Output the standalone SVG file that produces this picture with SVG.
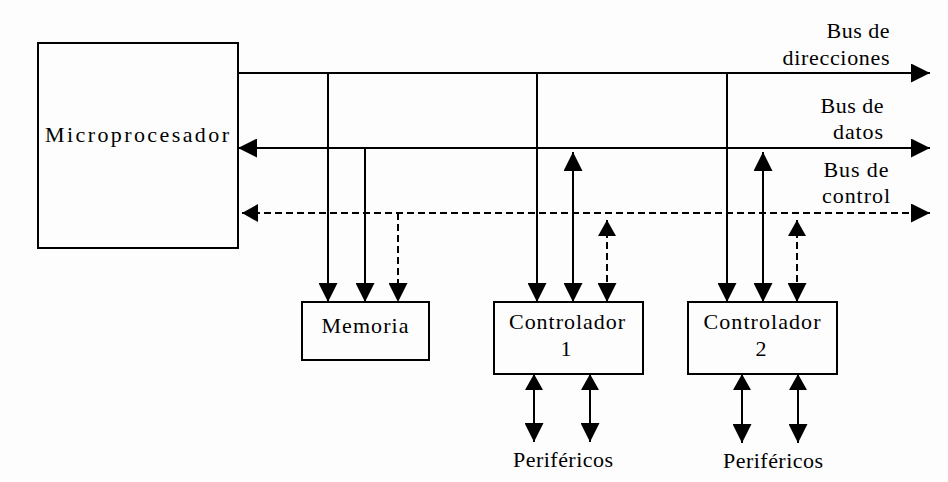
<svg xmlns="http://www.w3.org/2000/svg" width="948" height="482" viewBox="0 0 948 482">
  <style>
    .box { fill: none; stroke: #000; stroke-width: 2; }
    .ln { fill: none; stroke: #000; stroke-width: 2; }
    .dash { stroke-dasharray: 7 4; }
    .lbl { font-family: "Liberation Serif", "Times New Roman", serif; font-size: 22px; fill: #000; text-anchor: middle; }
  </style>
  <defs>
    <marker id="head" viewBox="0 0 19 19" refX="19" refY="9.5" markerWidth="19" markerHeight="19" markerUnits="userSpaceOnUse" orient="auto-start-reverse">
      <path d="M0,0 L19,9.5 L0,19 z" fill="#000"/>
    </marker>
    <marker id="headSm" viewBox="0 0 16 18" refX="16" refY="9" markerWidth="16" markerHeight="18" markerUnits="userSpaceOnUse" orient="auto-start-reverse">
      <path d="M0,0 L16,9 L0,18 z" fill="#000"/>
    </marker>
  </defs>

  <rect width="948" height="482" fill="#fdfdfd"/>

  <!-- bus labels -->
  <g id="labels">
    <text class="lbl" x="858" y="38" textLength="63">Bus de</text>
    <text class="lbl" x="836" y="65" textLength="107">direcciones</text>
    <text class="lbl" x="852" y="113" textLength="63">Bus de</text>
    <text class="lbl" x="858" y="139" textLength="50">datos</text>
    <text class="lbl" x="856" y="177" textLength="65">Bus de</text>
    <text class="lbl" x="856" y="203" textLength="68">control</text>
  </g>

  <g id="cpu">
    <rect class="box" x="38" y="43" width="200" height="205"/>
    <text class="lbl" x="137" y="142" textLength="184">Microprocesador</text>
  </g>

  <g id="memoria">
    <rect class="box" x="302" y="302" width="127" height="58"/>
    <text class="lbl" x="365" y="333" textLength="87">Memoria</text>
  </g>

  <g id="controlador1">
    <rect class="box" x="494" y="302" width="149" height="72"/>
    <text class="lbl" x="567" y="329" textLength="116">Controlador</text>
    <text class="lbl" x="566" y="356">1</text>
  </g>

  <g id="controlador2">
    <rect class="box" x="688" y="302" width="149" height="72"/>
    <text class="lbl" x="762" y="329" textLength="117">Controlador</text>
    <text class="lbl" x="761" y="356">2</text>
  </g>

  <g id="perifericos1">
    <text class="lbl" x="563" y="467" textLength="100">Periféricos</text>
  </g>
  <g id="perifericos2">
    <text class="lbl" x="773" y="468" textLength="100">Periféricos</text>
  </g>

  <g id="connectors">
    <!-- address bus -->
    <path class="ln" d="M238,73 H930" marker-end="url(#head)"/>
    <!-- data bus -->
    <path class="ln" d="M238,148 H930" marker-start="url(#head)" marker-end="url(#head)"/>
    <!-- control bus -->
    <path class="ln dash" d="M242,213 H930" marker-start="url(#headSm)" marker-end="url(#head)"/>

    <!-- Memoria taps -->
    <path class="ln" d="M328,73 V302" marker-end="url(#head)"/>
    <path class="ln" d="M365,148 V302" marker-end="url(#head)"/>
    <path class="ln dash" d="M398,213 V302" marker-end="url(#head)"/>

    <!-- Controlador 1 taps -->
    <path class="ln" d="M537,73 V302" marker-end="url(#head)"/>
    <path class="ln" d="M573,152 V302" marker-start="url(#head)" marker-end="url(#head)"/>
    <path class="ln dash" d="M607,220 V302" marker-start="url(#headSm)" marker-end="url(#head)"/>

    <!-- Controlador 2 taps -->
    <path class="ln" d="M727,73 V302" marker-end="url(#head)"/>
    <path class="ln" d="M763,152 V302" marker-start="url(#head)" marker-end="url(#head)"/>
    <path class="ln dash" d="M797,220 V302" marker-start="url(#headSm)" marker-end="url(#head)"/>

    <!-- peripheral links -->
    <path class="ln" d="M534,374 V442" marker-start="url(#headSm)" marker-end="url(#head)"/>
    <path class="ln" d="M590,374 V442" marker-start="url(#headSm)" marker-end="url(#head)"/>
    <path class="ln" d="M742,374 V443" marker-start="url(#headSm)" marker-end="url(#head)"/>
    <path class="ln" d="M798,374 V443" marker-start="url(#headSm)" marker-end="url(#head)"/>
  </g>
</svg>
